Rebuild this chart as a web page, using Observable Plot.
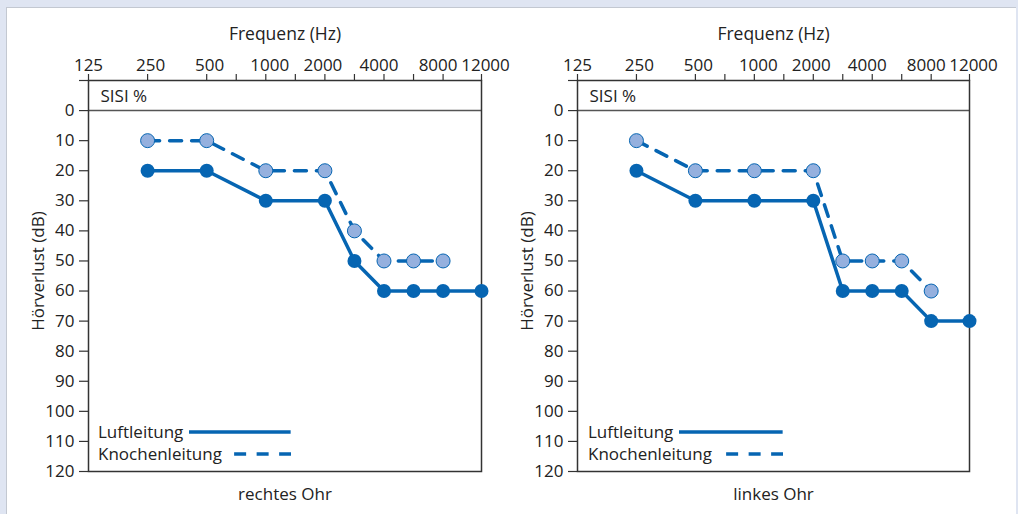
<!DOCTYPE html>
<html>
<head>
<meta charset="utf-8">
<script src="https://cdn.jsdelivr.net/npm/d3@7"></script>
<script src="https://cdn.jsdelivr.net/npm/@observablehq/plot@0.6"></script>
<style>
  html, body { margin: 0; padding: 0; }
  body { width: 1018px; height: 514px; background: #dfe5f2; position: relative; overflow: hidden; font-family: "Open Sans", sans-serif; }
  #panel { position: absolute; left: 6px; top: 7px; width: 1010px; height: 507px; background: #fff; border-left: 1.5px solid #c3c8d1; border-top: 1.5px solid #c3c8d1; box-sizing: border-box; }
  .chart { position: absolute; top: 7px; }
  .legend { position: absolute; top: 421px; font-size: 17px; color: #222; line-height: 22px; }
  .legend .row { display: flex; align-items: center; }
  .legend .row svg { flex: 1; height: 8px; margin-left: 6px; }
</style>
</head>
<body>
<div id="panel"></div>
<div id="left" class="chart" style="left:0px"></div>
<div id="right" class="chart" style="left:509px"></div>
<script>
// Audiogram frequency axis (Hz) and its slot spacing on the chart
const freqs = [125, 250, 500, 750, 1000, 1500, 2000, 3000, 4000, 6000, 8000, 12000];
const freqSlots = [0, 2, 4, 5, 6, 7, 8, 9, 10, 11, 12, 13.3];
const freqTickLabels = ["125", "250", "500", "", "1000", "", "2000", "", "4000", "", "8000", "12000"];
const labelNudge = [0, 3, 3, 0, 4, 0, -2, 0, -5, 0, -5, 4];
const dbTicks = [-10, 0, 10, 20, 30, 40, 50, 60, 70, 80, 90, 100, 110, 120];

// rechtes Ohr
const rechtsLuftFreq = [250, 500, 1000, 2000, 3000, 4000, 6000, 8000, 12000];
const rechtsLuft = [20, 20, 30, 30, 50, 60, 60, 60, 60];
const rechtsKnochenFreq = [250, 500, 1000, 2000, 3000, 4000, 6000, 8000];
const rechtsKnochen = [10, 10, 20, 20, 40, 50, 50, 50];

// linkes Ohr
const linksLuftFreq = [250, 500, 1000, 2000, 3000, 4000, 6000, 8000, 12000];
const linksLuft = [20, 30, 30, 30, 60, 60, 60, 70, 70];
const linksKnochenFreq = [250, 500, 1000, 2000, 3000, 4000, 6000, 8000];
const linksKnochen = [10, 20, 20, 20, 50, 50, 50, 60];

const seriesNames = ["Luftleitung", "Knochenleitung"];
const blue = "#0665b2";
const lightBlue = "#95b0de";

const slotOf = f => freqSlots[freqs.indexOf(f)];

function chart({luftFreq, luft, knochenFreq, knochen, label, marginLeft, marginRight}) {
  const luftData = luftFreq.map((f, i) => ({slot: slotOf(f), db: luft[i]}));
  const knochenData = knochenFreq.map((f, i) => ({slot: slotOf(f), db: knochen[i]}));
  const tickLabelMarks = freqTickLabels
    .map((t, i) => ({t, slot: freqSlots[i], nudge: labelNudge[i]}))
    .filter(d => d.t !== "")
    .map(d => Plot.text([d.t], {x: d.slot, frameAnchor: "top", dy: -10, dx: d.nudge, lineAnchor: "bottom", textAnchor: "middle"}));
  return Plot.plot({
    width: 509,
    height: 507,
    marginTop: 73,
    marginBottom: 43,
    marginLeft,
    marginRight,
    style: {background: "transparent", fontFamily: "Open Sans", fontSize: "17px", color: "#222", overflow: "visible"},
    x: {domain: [0, freqSlots[freqSlots.length - 1]], axis: null},
    y: {domain: [-10, 120], reverse: true, axis: null},
    marks: [
      Plot.ruleY([0], {stroke: "#555", strokeWidth: 1.5}),
      Plot.axisX({anchor: "top", ticks: freqSlots, tickFormat: () => "", tickSize: 7, label: null, stroke: "#333", strokeWidth: 1.2}),
      ...tickLabelMarks,
      Plot.axisY({anchor: "left", ticks: dbTicks, tickFormat: d => d < 0 ? "" : d, tickSize: 9, tickPadding: 5, label: null, stroke: "#333", strokeWidth: 1.2}),
      Plot.frame({stroke: "#333", strokeWidth: 1.5}),
      Plot.line(knochenData, {x: "slot", y: "db", stroke: blue, strokeWidth: 3.5, strokeDasharray: "12,10"}),
      Plot.line(luftData, {x: "slot", y: "db", stroke: blue, strokeWidth: 3.5}),
      Plot.dot(knochenData, {x: "slot", y: "db", r: 7, fill: lightBlue, stroke: blue, strokeWidth: 1}),
      Plot.dot(luftData, {x: "slot", y: "db", r: 7, fill: blue, stroke: "none"}),
      Plot.text(["SISI %"], {frameAnchor: "top-left", dx: 12, dy: 16, lineAnchor: "middle"}),
      Plot.text(["Frequenz (Hz)"], {frameAnchor: "top", dy: -46, lineAnchor: "middle", fontSize: 17.5}),
      Plot.text(["Hörverlust (dB)"], {frameAnchor: "left", rotate: -90, dx: -50, dy: -5, textAnchor: "middle", lineAnchor: "middle"}),
      Plot.text([label], {frameAnchor: "bottom", dy: 23, lineAnchor: "middle"})
    ]
  });
}

function legend(left, width) {
  const div = document.createElement("div");
  div.className = "legend";
  div.style.left = left + "px";
  div.style.width = width + "px";
  div.innerHTML =
    `<div class="row"><span>${seriesNames[0]}</span><svg><line x1="0" x2="100%" y1="4" y2="4" stroke="${blue}" stroke-width="3.5"/></svg></div>` +
    `<div class="row"><span>${seriesNames[1]}</span><svg><line x1="100%" x2="0" y1="4" y2="4" stroke="${blue}" stroke-width="3.5" stroke-dasharray="12,10.5"/></svg></div>`;
  document.body.appendChild(div);
}

document.getElementById("left").append(chart({
  luftFreq: rechtsLuftFreq, luft: rechtsLuft, knochenFreq: rechtsKnochenFreq, knochen: rechtsKnochen,
  label: "rechtes Ohr", marginLeft: 88, marginRight: 28
}));
document.getElementById("right").append(chart({
  luftFreq: linksLuftFreq, luft: linksLuft, knochenFreq: linksKnochenFreq, knochen: linksKnochen,
  label: "linkes Ohr", marginLeft: 68, marginRight: 49
}));
legend(98, 193);
legend(588, 195);
</script>
</body>
</html>
